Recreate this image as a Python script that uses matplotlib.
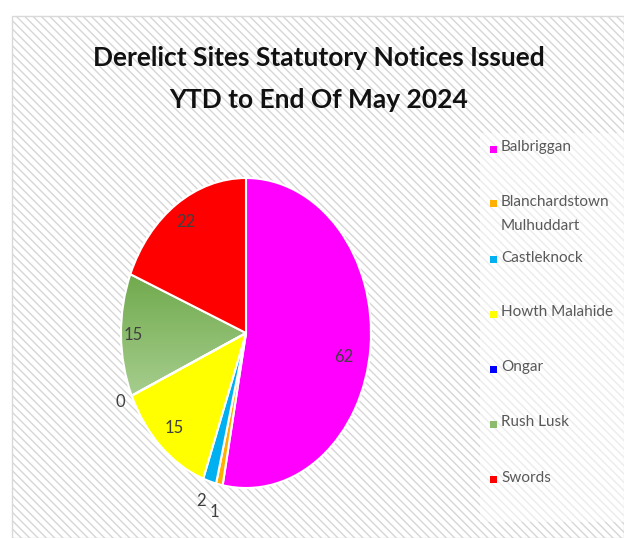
import numpy as np
import matplotlib.pyplot as plt
from matplotlib.patches import Rectangle
from matplotlib.colors import LinearSegmentedColormap

# data
AREAS = ["Balbriggan", "Blanchardstown\nMulhuddart", "Castleknock",
         "Howth Malahide", "Ongar", "Rush Lusk", "Swords"]
NOTICES = [62, 1, 2, 15, 0, 15, 22]
COLORS = ["#FF00FF", "#FFB000", "#00B0F0", "#FFFF00", "#0000FF", "#8DBB6E", "#FF0000"]
TITLE = "Derelict Sites Statutory Notices Issued\nYTD to End Of May 2024"

# where each value label sits: fraction of radius, angle nudge (deg)
LABEL_DIST = [0.8, 1.18, 1.14, 0.84, 1.10, 0.9, 0.86]
LABEL_NUDGE = [-6, 0, -1.5, 0, 0, 0, 0]

W, H = 624, 538
FONT = "Lato"


def px_rect(x0, y0, x1, y1):
    # pixel box (origin top-left) -> figure fraction (left, bottom, width, height)
    return (x0 / W, 1 - y1 / H, (x1 - x0) / W, (y1 - y0) / H)


plt.rcParams["hatch.linewidth"] = 1.0
fig = plt.figure(figsize=(W / 100, H / 100), dpi=100)

# chart area: hatched background + thin border
l, b, w, h = px_rect(12, 16, W, H)
fig.patches.append(Rectangle((l, b), w, h, transform=fig.transFigure,
                             facecolor="white", edgecolor="#D6D6D6",
                             linewidth=0, hatch="\\\\\\\\", zorder=-3))
fig.patches.append(Rectangle((l, b), w, h, transform=fig.transFigure,
                             facecolor="none", edgecolor="#D9D9D9",
                             linewidth=1, zorder=-2))

# legend panel (lighter)
l, b, w, h = px_rect(480, 133, W, 522)
fig.patches.append(Rectangle((l, b), w, h, transform=fig.transFigure,
                             facecolor="white", alpha=0.55, linewidth=0, zorder=-1))

fig.text(319 / W, 1 - 79 / H, TITLE, ha="center", va="center", fontsize=19,
         fontweight="bold", family=FONT, color="#111111", linespacing=1.9)

# pie (elliptical)
ax = fig.add_axes(px_rect(121, 178, 371, 488))
wedges, _ = ax.pie(NOTICES, colors=COLORS, startangle=90, counterclock=False,
                   wedgeprops=dict(edgecolor="white", linewidth=1.5))

# gradient fill for Rush Lusk
rush = wedges[5]
rush.set_facecolor("none")
grad = np.linspace(0, 1, 256).reshape(-1, 1)
cmap = LinearSegmentedColormap.from_list("rush", ["#6EA84A", "#A9D091"])
im = ax.imshow(grad, cmap=cmap, extent=(-1.05, 0.05, -0.45, 0.42),
               origin="upper", aspect="auto", zorder=0.9)
im.set_clip_path(rush)

for wdg, val, d, nudge in zip(wedges, NOTICES, LABEL_DIST, LABEL_NUDGE):
    ang = np.deg2rad((wdg.theta1 + wdg.theta2) / 2 + nudge)
    ax.text(d * np.cos(ang), d * np.sin(ang), str(val), ha="center", va="center",
            fontsize=12, family=FONT, color="#404040")

ax.set_aspect("auto")
ax.set_xlim(-1, 1)
ax.set_ylim(-1, 1)
ax.axis("off")

# legend, one slot every 55 px
for i, (name, col) in enumerate(zip(AREAS, COLORS)):
    y = 149 + 55 * i
    l, b, w, h = px_rect(489.5, y - 3.5, 496.5, y + 3.5)
    fig.patches.append(Rectangle((l, b), w, h, transform=fig.transFigure,
                                 facecolor=col, linewidth=0, zorder=2))
    fig.text(501 / W, 1 - (y - 8.5) / H, name, ha="left", va="top", fontsize=11,
             family=FONT, color="#595959", linespacing=1.85)

fig.savefig("out.png", dpi=100)
